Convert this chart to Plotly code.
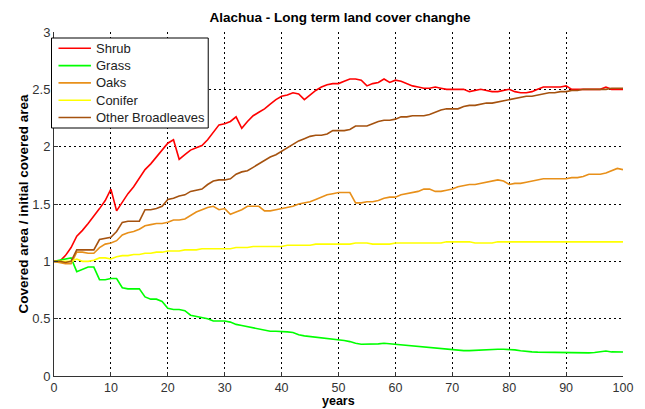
import plotly.graph_objects as go

years = list(range(0, 101))

shrub = [1.00, 1.00, 1.05, 1.12, 1.22, 1.27, 1.33, 1.39, 1.46, 1.53,
         1.63, 1.44, 1.52, 1.59, 1.65, 1.72, 1.80, 1.85, 1.91, 1.97,
         2.03, 2.06, 1.89, 1.93, 1.97, 1.99, 2.01, 2.06, 2.13, 2.19,
         2.20, 2.22, 2.26, 2.16, 2.22, 2.27, 2.30, 2.33, 2.37, 2.41,
         2.44, 2.45, 2.47, 2.46, 2.41, 2.45, 2.49, 2.52, 2.54, 2.55,
         2.55, 2.57, 2.59, 2.59, 2.58, 2.53, 2.55, 2.56, 2.59, 2.56,
         2.58, 2.57, 2.55, 2.53, 2.52, 2.51, 2.51, 2.52, 2.51, 2.50,
         2.50, 2.50, 2.50, 2.48, 2.49, 2.50, 2.49, 2.48, 2.48, 2.49,
         2.50, 2.48, 2.47, 2.47, 2.48, 2.50, 2.52, 2.52, 2.52, 2.52,
         2.53, 2.50, 2.50, 2.50, 2.50, 2.50, 2.50, 2.52, 2.50, 2.50,
         2.50]

grass = [1.00, 1.01, 1.02, 1.03, 0.91, 0.93, 0.95, 0.95, 0.84, 0.84,
         0.85, 0.85, 0.77, 0.76, 0.76, 0.76, 0.69, 0.67, 0.67, 0.65,
         0.59, 0.58, 0.58, 0.57, 0.53, 0.52, 0.51, 0.50, 0.48, 0.48,
         0.48, 0.47, 0.45, 0.44, 0.43, 0.42, 0.41, 0.395, 0.39, 0.39,
         0.39, 0.385, 0.38, 0.36, 0.35, 0.345, 0.34, 0.33, 0.325, 0.32,
         0.32, 0.31, 0.30, 0.285, 0.277, 0.277, 0.277, 0.28, 0.285, 0.28,
         0.275, 0.27, 0.265, 0.262, 0.26, 0.255, 0.25, 0.245, 0.24, 0.232,
         0.227, 0.222, 0.221, 0.221, 0.224, 0.228, 0.232, 0.233, 0.233, 0.233,
         0.232, 0.228, 0.22, 0.213, 0.21, 0.208, 0.207, 0.205, 0.203, 0.201,
         0.20, 0.20, 0.20, 0.20, 0.202, 0.205, 0.21, 0.218, 0.21, 0.209,
         0.209]

oaks = [1.00, 0.99, 0.98, 0.98, 1.08, 1.08, 1.07, 1.07, 1.12, 1.15,
        1.16, 1.18, 1.23, 1.25, 1.26, 1.28, 1.31, 1.32, 1.33, 1.33,
        1.34, 1.36, 1.36, 1.37, 1.40, 1.43, 1.45, 1.47, 1.48, 1.45,
        1.46, 1.41, 1.43, 1.45, 1.48, 1.48, 1.48, 1.44, 1.44, 1.45,
        1.46, 1.47, 1.48, 1.50, 1.51, 1.52, 1.54, 1.56, 1.58, 1.59,
        1.60, 1.60, 1.60, 1.51, 1.51, 1.52, 1.52, 1.53, 1.55, 1.56,
        1.56, 1.58, 1.59, 1.60, 1.61, 1.63, 1.63, 1.61, 1.61, 1.62,
        1.63, 1.65, 1.66, 1.67, 1.67, 1.68, 1.69, 1.70, 1.71, 1.70,
        1.67, 1.68, 1.68, 1.69, 1.70, 1.71, 1.72, 1.72, 1.72, 1.72,
        1.72, 1.73, 1.73, 1.74, 1.76, 1.76, 1.76, 1.77, 1.79, 1.81,
        1.80]

conifer = [1.00, 1.00, 1.00, 1.00, 1.02, 1.00, 1.00, 1.01, 1.03, 1.03,
           1.02, 1.04, 1.05, 1.05, 1.06, 1.06, 1.07, 1.07, 1.08, 1.08,
           1.09, 1.09, 1.09, 1.10, 1.10, 1.10, 1.11, 1.11, 1.11, 1.11,
           1.11, 1.11, 1.12, 1.12, 1.12, 1.13, 1.13, 1.13, 1.13, 1.13,
           1.13, 1.14, 1.14, 1.14, 1.14, 1.14, 1.15, 1.15, 1.15, 1.15,
           1.15, 1.15, 1.15, 1.16, 1.16, 1.16, 1.15, 1.15, 1.15, 1.15,
           1.16, 1.16, 1.16, 1.16, 1.16, 1.16, 1.16, 1.16, 1.16, 1.17,
           1.17, 1.17, 1.17, 1.17, 1.16, 1.16, 1.16, 1.16, 1.17, 1.17,
           1.17, 1.17, 1.17, 1.17, 1.17, 1.17, 1.17, 1.17, 1.17, 1.17,
           1.17, 1.17, 1.17, 1.17, 1.17, 1.17, 1.17, 1.17, 1.17, 1.17,
           1.17]

broadleaves = [1.00, 1.00, 0.99, 1.00, 1.10, 1.10, 1.10, 1.10, 1.19, 1.20,
               1.21, 1.26, 1.34, 1.35, 1.35, 1.35, 1.45, 1.45, 1.46, 1.48,
               1.54, 1.55, 1.57, 1.58, 1.61, 1.62, 1.63, 1.67, 1.70, 1.71,
               1.71, 1.72, 1.76, 1.78, 1.79, 1.82, 1.85, 1.88, 1.91, 1.93,
               1.96, 1.99, 2.02, 2.05, 2.07, 2.09, 2.10, 2.10, 2.11, 2.14,
               2.14, 2.14, 2.15, 2.18, 2.18, 2.18, 2.20, 2.22, 2.23, 2.23,
               2.24, 2.26, 2.26, 2.27, 2.27, 2.27, 2.28, 2.30, 2.32, 2.33,
               2.33, 2.33, 2.35, 2.36, 2.36, 2.37, 2.38, 2.38, 2.39, 2.40,
               2.41, 2.42, 2.43, 2.44, 2.44, 2.45, 2.46, 2.47, 2.47, 2.48,
               2.48, 2.49, 2.49, 2.50, 2.50, 2.50, 2.50, 2.50, 2.51, 2.51,
               2.51]

series_names = ["Shrub", "Grass", "Oaks", "Conifer", "Other Broadleaves"]
series_values = [shrub, grass, oaks, conifer, broadleaves]
series_colors = ["#FF0000", "#00FF00", "#E8901A", "#FFFF00", "#A5520F"]

x_ticks = [0, 10, 20, 30, 40, 50, 60, 70, 80, 90, 100]
y_ticks = [0, 0.5, 1, 1.5, 2, 2.5, 3]
y_tick_labels = ["0", "0.5", "1", "1.5", "2", "2.5", "3"]

# The page body adds an 8px offset; layout numbers below are in page pixels.
OFF = 8
W, H = 645, 409
PLOT_L, PLOT_R, PLOT_T, PLOT_B = 53.5, 623.5, 32, 376
ML = PLOT_L - OFF
MR = W - (PLOT_R - OFF)
MT = PLOT_T - OFF
MB = H - (PLOT_B - OFF)
PW, PH = PLOT_R - PLOT_L, PLOT_B - PLOT_T


def px_x(px):
    return (px - PLOT_L) / PW


def px_y(py):
    return (PLOT_B - py) / PH


fig = go.Figure()
for name, vals, col in zip(series_names, series_values, series_colors):
    fig.add_trace(go.Scatter(x=years, y=vals, mode="lines", name=name,
                             line=dict(color=col, width=1.6), showlegend=False))

font_family = "Liberation Sans, Arial, sans-serif"

# custom legend box (MATLAB style, compact rows)
shapes = [dict(type="rect", xref="paper", yref="paper",
               x0=px_x(51), x1=px_x(208), y0=px_y(128), y1=px_y(38),
               fillcolor="white", line=dict(color="black", width=1), layer="above")]
annotations = []
for i, (name, col) in enumerate(zip(series_names, series_colors)):
    ry = 48.3 + i * 17.3
    shapes.append(dict(type="line", xref="paper", yref="paper",
                       x0=px_x(58), x1=px_x(90.5), y0=px_y(ry), y1=px_y(ry),
                       line=dict(color=col, width=1.6), layer="above"))
    annotations.append(dict(text=name, xref="paper", yref="paper",
                            x=px_x(94), y=px_y(ry), xanchor="left", yanchor="middle",
                            showarrow=False,
                            font=dict(family=font_family, size=13, color="#222222")))

# axis titles
annotations.append(dict(text="<b>years</b>", xref="paper", yref="paper",
                        x=px_x(338), y=px_y(400.5), xanchor="center", yanchor="middle",
                        showarrow=False, font=dict(family=font_family, size=12.5, color="black")))
annotations.append(dict(text="<b>Covered area / initial covered area</b>", xref="paper",
                        yref="paper", x=px_x(22), y=px_y(204), xanchor="center",
                        yanchor="middle", textangle=-90, showarrow=False,
                        font=dict(family=font_family, size=13.5, color="black")))

fig.update_layout(
    width=W, height=H,
    paper_bgcolor="white", plot_bgcolor="white",
    margin=dict(l=ML, r=MR, t=MT, b=MB, autoexpand=False),
    font=dict(family=font_family, size=12, color="#222222"),
    title=dict(text="<b>Alachua - Long term land cover changhe</b>",
               x=(340 - OFF) / W, xanchor="center", y=1 - (17 - OFF) / H, yanchor="middle",
               font=dict(size=13.5, color="black")),
    showlegend=False,
    shapes=shapes,
    annotations=annotations,
)
fig.update_xaxes(range=[0, 100], tickvals=x_ticks, showgrid=True,
                 gridcolor="black", griddash="2px,3px", gridwidth=1,
                 showline=True, linecolor="#333333", linewidth=1, mirror=False,
                 ticks="inside", ticklen=4, tickcolor="#333333",
                 zeroline=False, automargin=False,
                 tickfont=dict(size=12.5, color="#333333"))
fig.update_yaxes(range=[0, 3], tickvals=y_ticks, ticktext=y_tick_labels,
                 showgrid=True, gridcolor="black", griddash="2px,3px", gridwidth=1,
                 showline=True, linecolor="#333333", linewidth=1, mirror=False,
                 ticks="inside", ticklen=4, tickcolor="#333333",
                 zeroline=False, automargin=False,
                 tickfont=dict(size=13, color="#333333"))

fig.write_html("out.html")
